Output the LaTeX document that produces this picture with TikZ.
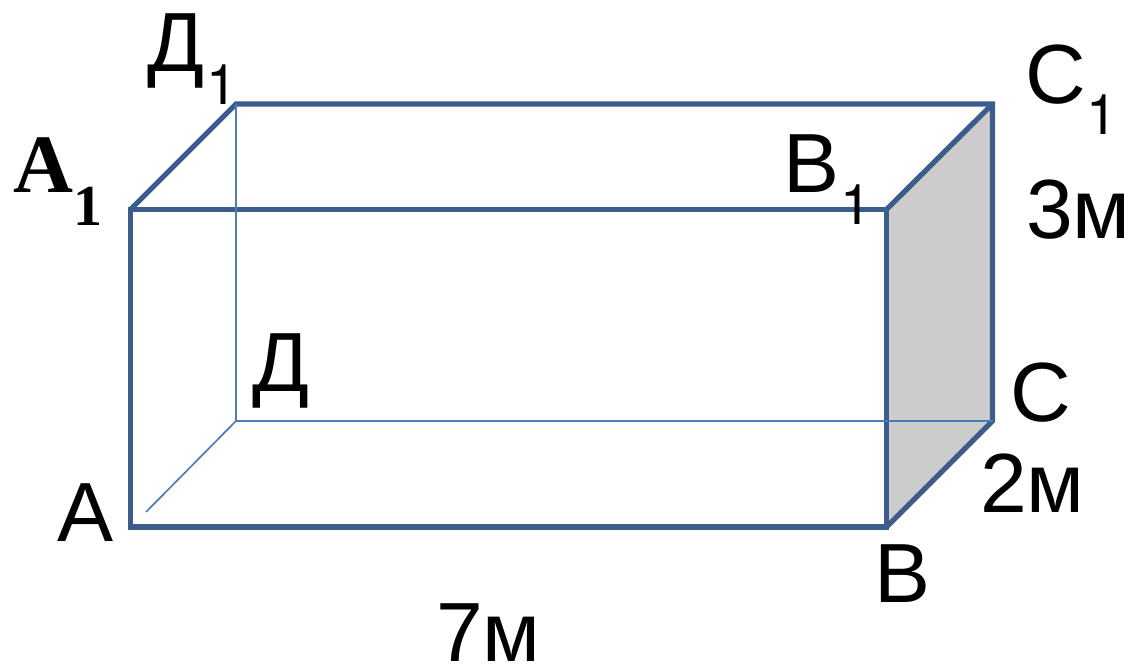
\documentclass[tikz,border=0pt]{standalone}
\usepackage{fontspec}
\setmainfont{Liberation Sans}
\newfontfamily\serifb{Liberation Serif}[Scale=1]
\newfontfamily\subfont{TeX Gyre Heros}
\begin{document}
\begin{tikzpicture}[x=1pt,y=-1pt,
  edge/.style={draw=edgeblue,line width=5.2pt,line join=miter},
  thin edge/.style={draw=thinblue,line width=1.7pt},
  lab/.style={inner sep=0pt,anchor=base west,font=\fontsize{84}{84}\selectfont},
  sub/.style={inner sep=0pt,anchor=base west,font=\subfont\fontsize{56}{56}\selectfont}]
\definecolor{edgeblue}{RGB}{60,92,140}
\definecolor{thinblue}{RGB}{74,126,187}
\useasboundingbox (0,0) rectangle (1132,668);
\fill[white] (0,0) rectangle (1132,668);
\coordinate (A) at (130.5,527);
\coordinate (B) at (886.5,527);
\coordinate (C) at (992.5,421);
\coordinate (D) at (236,421);
\coordinate (A1) at (130.5,209.5);
\coordinate (B1) at (886.5,209.5);
\coordinate (C1) at (992.5,104);
\coordinate (D1) at (236,104);
\coordinate (Aend) at (146,512);
\fill[fill=black!20] (B) -- (C) -- (C1) -- (B1) -- cycle;
\draw[edge] (A) rectangle (B1);
\draw[edge] (B1) -- (C1);
\draw[edge] (A1) -- (D1) -- (C1) -- (C) -- (B);
\draw[thin edge] (D1) -- (D) -- (C);
\draw[thin edge] (D) -- (Aend);
\node[lab] (tD1) at (147,72) {Д};
\node[sub] (sD1) at (206,105) {1};
\node[inner sep=0pt,anchor=base west,font=\serifb\bfseries\fontsize{83}{83}\selectfont] (tA1) at (13,193) {A};
\node[inner sep=0pt,anchor=base west,font=\serifb\bfseries\fontsize{58}{58}\selectfont] (sA1) at (73,226) {1};
\node[lab] (tB1) at (783,193) {B};
\node[sub] (sB1) at (840,225) {1};
\node[lab] (tC1) at (1025,104) {C};
\node[sub] (sC1) at (1086,135) {1};
\node[lab] (t3) at (1026,239) {3м};
\node[lab] (tD) at (252,391) {Д};
\node[lab] (tC) at (1010,421) {C};
\node[lab] (t2) at (980,512) {2м};
\node[lab] (tA) at (57,541) {A};
\node[lab] (tB) at (874,602) {B};
\node[lab] (t7) at (436,661) {7м};
\end{tikzpicture}
\end{document}
